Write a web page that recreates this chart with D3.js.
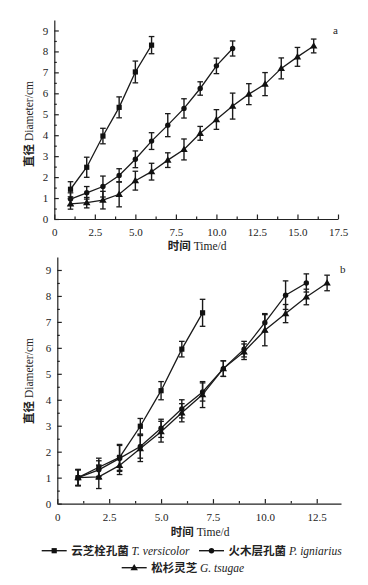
<!DOCTYPE html>
<html>
<head>
<meta charset="utf-8">
<script src="https://cdn.jsdelivr.net/npm/d3@7"></script>
<style>
  body { margin: 0; background: #fff; }
  svg { display: block; }
  text { font-family: "Liberation Serif", "Noto Sans CJK SC", serif; fill: #222; }
  .axis path, .axis line { stroke: #222; stroke-width: 1.2; }
  .axis text { font-size: 11px; }
</style>
</head>
<body>
<div id="chart"></div>
<script>
'use strict';

// ---- data: panel a ----
const daysA1 = [1, 2, 3, 4, 5, 6];
const versicolorA = [1.42, 2.47, 3.96, 5.33, 7.02, 8.30];
const versicolorErrA = [0.36, 0.48, 0.37, 0.5, 0.52, 0.41];
const daysA2 = [1, 2, 3, 4, 5, 6, 7, 8, 9, 10, 11];
const igniariusA = [0.95, 1.25, 1.55, 2.08, 2.85, 3.72, 4.48, 5.28, 6.23, 7.31, 8.14];
const igniariusErrA = [0.3, 0.3, 0.5, 0.32, 0.4, 0.4, 0.55, 0.46, 0.32, 0.37, 0.36];
const daysA3 = [1, 2, 3, 4, 5, 6, 7, 8, 9, 10, 11, 12, 13, 14, 15, 16];
const tsugaeA = [0.72, 0.78, 0.9, 1.18, 1.83, 2.26, 2.81, 3.32, 4.09, 4.75, 5.39, 5.96, 6.44, 7.19, 7.74, 8.26];
const tsugaeErrA = [0.25, 0.25, 0.42, 0.6, 0.45, 0.4, 0.35, 0.5, 0.33, 0.47, 0.62, 0.5, 0.55, 0.5, 0.45, 0.33];

// ---- data: panel b ----
const daysB1 = [1, 2, 3, 4, 5, 6, 7];
const versicolorB = [1.0, 1.4, 1.78, 2.98, 4.35, 5.95, 7.35];
const versicolorErrB = [0.32, 0.35, 0.5, 0.3, 0.35, 0.3, 0.52];
const daysB2 = [1, 2, 3, 4, 5, 6, 7, 8, 9, 10, 11, 12];
const igniariusB = [1.0, 1.3, 1.74, 2.2, 2.9, 3.65, 4.3, 5.2, 5.95, 6.97, 8.03, 8.5];
const igniariusErrB = [0.3, 0.35, 0.5, 0.45, 0.35, 0.35, 0.35, 0.3, 0.3, 0.35, 0.55, 0.35];
const daysB3 = [1, 2, 3, 4, 5, 6, 7, 8, 9, 10, 11, 12, 13];
const tsugaeB = [1.0, 1.03, 1.47, 2.12, 2.77, 3.5, 4.2, 5.2, 5.85, 6.68, 7.32, 7.96, 8.5];
const tsugaeErrB = [0.3, 0.45, 0.35, 0.5, 0.4, 0.35, 0.5, 0.3, 0.3, 0.6, 0.35, 0.3, 0.3];

// ---- axis ticks / labels ----
const xTicksA = [0, 2.5, 5, 7.5, 10, 12.5, 15, 17.5];
const xTicksB = [0, 2.5, 5, 7.5, 10, 12.5];
const yTicks = [0, 1, 2, 3, 4, 5, 6, 7, 8, 9];
const xTitle = ["时间 ", "Time/d"];
const yTitle = ["直径 ", "Diameter/cm"];
const legendNames = ["云芝栓孔菌 ", "火木层孔菌 ", "松杉灵芝 "];
const legendLatin = ["T. versicolor", "P. igniarius", "G. tsugae"];
const symbols = ["square", "circle", "triangle"];

const svg = d3.select("#chart").append("svg")
    .attr("width", 368)
    .attr("height", 585);

function fmtX(d) { return d === 0 ? "0" : d.toFixed(1); }

function drawMarker(g, type, x, y) {
    if (type === "square") {
        g.append("rect").attr("x", x - 2.6).attr("y", y - 2.6)
            .attr("width", 5.2).attr("height", 5.2).attr("fill", "#111");
    } else if (type === "circle") {
        g.append("circle").attr("cx", x).attr("cy", y).attr("r", 2.7).attr("fill", "#111");
    } else {
        g.append("path")
            .attr("d", d3.symbol(d3.symbolTriangle, 24)())
            .attr("transform", "translate(" + x + "," + (y + 0.5) + ")")
            .attr("fill", "#111");
    }
}

function drawPanel(opts) {
    const g = svg.append("g");
    const x = d3.scaleLinear().domain([0, opts.xMax]).range([opts.left, opts.right]);
    const y = d3.scaleLinear().domain([0, 9.5]).range([opts.bottom, opts.top]);

    // minor ticks
    g.append("g").attr("class", "axis")
        .attr("transform", "translate(0," + opts.bottom + ")")
        .call(d3.axisBottom(x).tickValues(d3.range(1.25, opts.xMax, 2.5)).tickSize(-2.5).tickFormat(""))
        .select(".domain").remove();
    g.append("g").attr("class", "axis")
        .attr("transform", "translate(" + opts.left + ",0)")
        .call(d3.axisLeft(y).tickValues(d3.range(0.5, 9.5, 1)).tickSize(-2.5).tickFormat(""))
        .select(".domain").remove();

    // major axes
    const xAxis = g.append("g").attr("class", "axis")
        .attr("transform", "translate(0," + opts.bottom + ")")
        .call(d3.axisBottom(x).tickValues(opts.xTicks).tickSizeInner(-4.5).tickSizeOuter(0)
            .tickPadding(8).tickFormat(fmtX));
    g.append("g").attr("class", "axis")
        .attr("transform", "translate(" + opts.left + ",0)")
        .call(d3.axisLeft(y).tickValues(yTicks).tickSizeInner(-4.5).tickSizeOuter(0)
            .tickPadding(6).tickFormat(d3.format("d")));
    xAxis.selectAll("text").attr("dy", "0.85em");

    // axis titles
    const xt = g.append("text")
        .attr("x", (opts.left + opts.right) / 2 + 1)
        .attr("y", opts.bottom + opts.xTitleGap)
        .attr("text-anchor", "middle")
        .style("font-size", "11.5px");
    xt.append("tspan").style("font-weight", "bold").text(xTitle[0]);
    xt.append("tspan").text(xTitle[1]);
    const yt = g.append("text")
        .attr("transform", "translate(" + opts.yTitleX + "," + opts.yTitleY + ") rotate(-90)")
        .attr("text-anchor", "middle")
        .attr("dy", "0.35em")
        .style("font-size", "11.5px");
    yt.append("tspan").style("font-weight", "bold").text(yTitle[0]);
    yt.append("tspan").text(yTitle[1]);

    // panel letter
    g.append("text")
        .attr("x", opts.letterX).attr("y", opts.letterY)
        .attr("dy", "0.35em")
        .style("font-size", "11px")
        .text(opts.letter);

    const line = d3.line().x(d => x(d.day)).y(d => y(d.value));

    opts.series.forEach((s, i) => {
        const data = s.days.map((day, k) => ({ day: day, value: s.values[k], err: s.errs[k] }));
        const sg = g.append("g");
        sg.append("path")
            .datum(data)
            .attr("d", line)
            .attr("fill", "none")
            .attr("stroke", "#1a1a1a")
            .attr("stroke-width", 1.3);
        // error bars
        data.forEach(d => {
            const cx = x(d.day);
            const y0 = y(d.value - d.err), y1 = y(d.value + d.err);
            sg.append("line").attr("x1", cx).attr("x2", cx).attr("y1", y0).attr("y2", y1)
                .attr("stroke", "#1a1a1a").attr("stroke-width", 1.4);
            [y0, y1].forEach(yy => {
                sg.append("line").attr("x1", cx - 2.8).attr("x2", cx + 2.8).attr("y1", yy).attr("y2", yy)
                    .attr("stroke", "#1a1a1a").attr("stroke-width", 1.3);
            });
        });
        data.forEach(d => drawMarker(sg, symbols[i], x(d.day), y(d.value)));
    });
}

drawPanel({
    left: 54.3, right: 338, top: 20, bottom: 219, xMax: 17.5, xTicks: xTicksA,
    xTitleGap: 31, yTitleX: 29, yTitleY: 124, letter: "a", letterX: 333, letterY: 30,
    series: [
        { days: daysA1, values: versicolorA, errs: versicolorErrA },
        { days: daysA2, values: igniariusA, errs: igniariusErrA },
        { days: daysA3, values: tsugaeA, errs: tsugaeErrA }
    ]
});

drawPanel({
    left: 57.3, right: 341, top: 257, bottom: 503.6, xMax: 13.67, xTicks: xTicksB,
    xTitleGap: 32, yTitleX: 29, yTitleY: 381, letter: "b", letterX: 340, letterY: 269,
    series: [
        { days: daysB1, values: versicolorB, errs: versicolorErrB },
        { days: daysB2, values: igniariusB, errs: igniariusErrB },
        { days: daysB3, values: tsugaeB, errs: tsugaeErrB }
    ]
});

// ---- legend ----
const legendPos = [[41.7, 550.7], [199, 550.7], [121.7, 567.7]];
symbols.forEach((sym, i) => {
    const lg = svg.append("g");
    const lx = legendPos[i][0], ly = legendPos[i][1];
    lg.append("line").attr("x1", lx).attr("x2", lx + 25).attr("y1", ly).attr("y2", ly)
        .attr("stroke", "#1a1a1a").attr("stroke-width", 1.4);
    drawMarker(lg, sym, lx + 12.5, ly);
    const t = lg.append("text").attr("x", lx + 29.5).attr("y", ly).attr("dy", "0.35em")
        .style("font-size", "11.5px");
    t.append("tspan").style("font-weight", "bold").text(legendNames[i]);
    t.append("tspan").style("font-style", "italic").text(legendLatin[i]);
});
</script>
</body>
</html>
